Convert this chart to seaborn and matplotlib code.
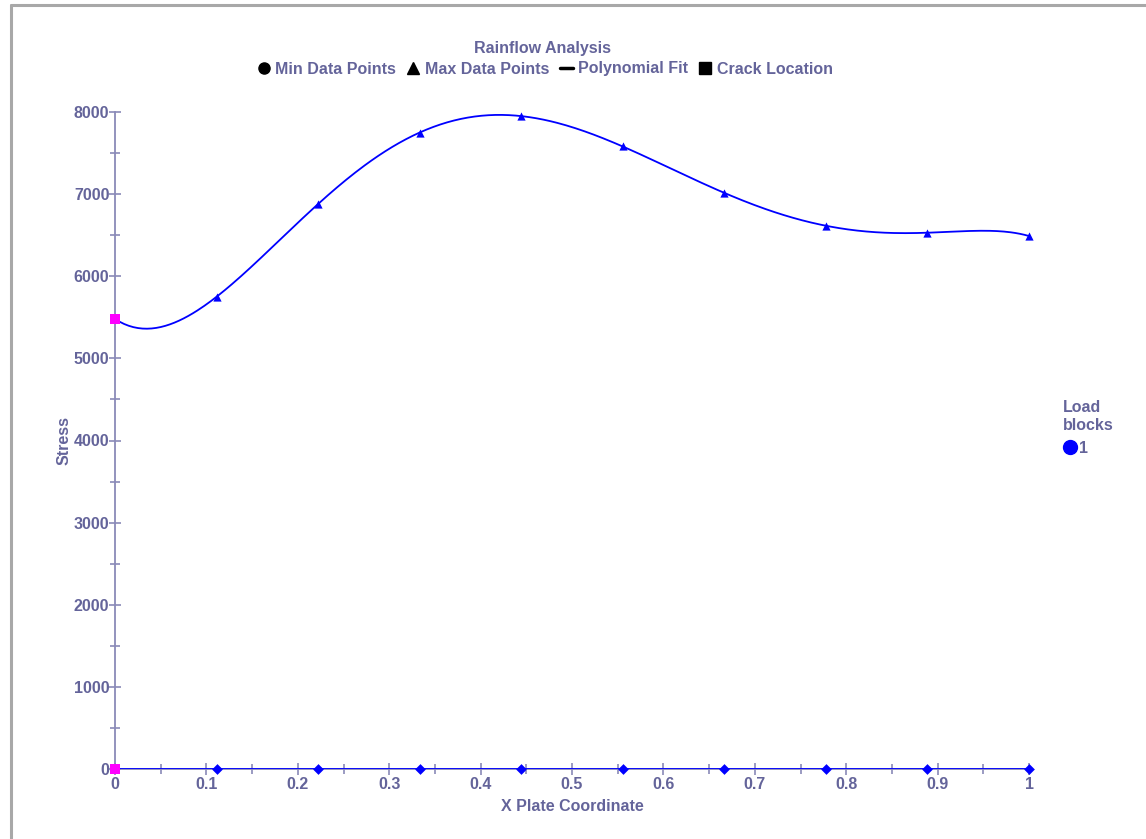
import numpy as np
import pandas as pd
import matplotlib
matplotlib.use("Agg")
import matplotlib.pyplot as plt
import seaborn as sns
from matplotlib.lines import Line2D
from matplotlib.ticker import MultipleLocator, FuncFormatter

# Rainflow analysis data along the plate
x_coord = [0.0, 1/9, 2/9, 3/9, 4/9, 5/9, 6/9, 7/9, 8/9, 1.0]
max_stress = [5480, 5750, 6880, 7750, 7950, 7580, 7015, 6615, 6530, 6490]
min_stress = [0, 0, 0, 0, 0, 0, 0, 0, 0, 0]
crack_x = [0.0, 0.0]
crack_y = [0, 5480]
fit_degree = 9

TEXT = "#64649a"
AXIS = "#8a8ab8"
BLUE = "#0000ff"
FS = 11.5

sns.set_style("white")
plt.rcParams["font.family"] = ["Liberation Sans", "DejaVu Sans"]
plt.rcParams["font.weight"] = "bold"

fig = plt.figure(figsize=(11.46, 8.39), dpi=100)
ax = fig.add_axes([115/1146, 1-769/839, (1029-115)/1146, (769-112)/839])

# polynomial fit through the max points
coef = np.polyfit(x_coord, max_stress, fit_degree)
xs = np.linspace(0, 1, 400)
fit_df = pd.DataFrame({"x": xs, "y": np.polyval(coef, xs)})
sns.lineplot(data=fit_df, x="x", y="y", ax=ax, color=BLUE, lw=1.3, zorder=3)

# min fit (flat) line
min_df = pd.DataFrame({"x": x_coord, "y": min_stress})
sns.lineplot(data=min_df, x="x", y="y", ax=ax, color=BLUE, lw=1.3, zorder=3)

pts = pd.DataFrame({"x": x_coord, "max": max_stress, "min": min_stress})
sns.scatterplot(data=pts.iloc[1:], x="x", y="max", ax=ax, marker="^", color=BLUE,
                s=35, edgecolor=BLUE, linewidth=0, zorder=4, clip_on=False)
sns.scatterplot(data=pts.iloc[1:], x="x", y="min", ax=ax, marker="D", color=BLUE,
                s=30, edgecolor=BLUE, linewidth=0, zorder=4, clip_on=False)
crack_df = pd.DataFrame({"x": crack_x, "y": crack_y})
sns.scatterplot(data=crack_df, x="x", y="y", ax=ax, marker="s", color="#ff00ff",
                s=55, edgecolor="#ff00ff", linewidth=0, zorder=5, clip_on=False)

ax.set_xlim(0, 1)
ax.set_ylim(0, 8000)
for s in ["top", "right"]:
    ax.spines[s].set_visible(False)
for s in ["left", "bottom"]:
    ax.spines[s].set_color(AXIS)
    ax.spines[s].set_linewidth(1.3)

ax.xaxis.set_major_locator(MultipleLocator(0.1))
ax.xaxis.set_minor_locator(MultipleLocator(0.05))
ax.yaxis.set_major_locator(MultipleLocator(1000))
ax.yaxis.set_minor_locator(MultipleLocator(500))
ax.xaxis.set_major_formatter(FuncFormatter(lambda v, p: f"{v:g}"))
ax.tick_params(which="both", direction="inout", color=AXIS, width=1.2,
               labelcolor=TEXT, labelsize=FS, bottom=True, left=True)
ax.tick_params(axis="x", pad=2)
ax.tick_params(axis="y", pad=0)
ax.tick_params(which="major", length=8)
ax.tick_params(which="minor", length=7)
for lab in ax.get_xticklabels() + ax.get_yticklabels():
    lab.set_fontweight("bold")

ax.set_xlabel("X Plate Coordinate", color=TEXT, fontsize=FS, fontweight="bold", labelpad=5)
ax.set_ylabel("Stress", color=TEXT, fontsize=FS, fontweight="bold", va="center")
ax.yaxis.set_label_coords((64 - 115) / 914, 0.5)

fig.text(543/1146, 1-48/839, "Rainflow Analysis", ha="center", va="center",
         color=TEXT, fontsize=FS, fontweight="bold")

handles = [
    Line2D([], [], marker="o", ls="none", color="black", markersize=8),
    Line2D([], [], marker="^", ls="none", color="black", markersize=9),
    Line2D([], [], ls="-", color="black", lw=2.5),
    Line2D([], [], marker="s", ls="none", color="black", markersize=8),
]
labels = ["Min Data Points", "Max Data Points", "Polynomial Fit", "Crack Location"]
leg = fig.legend(handles, labels, loc="center", bbox_to_anchor=(545/1146, 1-69/839),
                 ncol=4, frameon=False, handlelength=0.8, handletextpad=0.3,
                 columnspacing=0.7, prop={"size": FS, "weight": "bold"})
for t in leg.get_texts():
    t.set_color(TEXT)

leg2 = fig.legend([Line2D([], [], marker="o", ls="none", color=BLUE, markersize=10)], ["1"],
                  title="Load\nblocks", loc="upper left", bbox_to_anchor=(1049/1146, 1-386/839),
                  frameon=False, handlelength=0.8, handletextpad=0.2,
                  prop={"size": FS, "weight": "bold"},
                  title_fontproperties={"size": FS, "weight": "bold"})
leg2._legend_box.align = "left"
leg2.get_title().set_color(TEXT)
for t in leg2.get_texts():
    t.set_color(TEXT)

# window frame lines
fig.add_artist(Line2D([11/1146, 1], [1-5/839, 1-5/839], color="#a8a8a8", lw=2.2))
fig.add_artist(Line2D([11/1146, 11/1146], [0, 1-5/839], color="#a8a8a8", lw=2.2))

fig.savefig("out.png", dpi=100)
